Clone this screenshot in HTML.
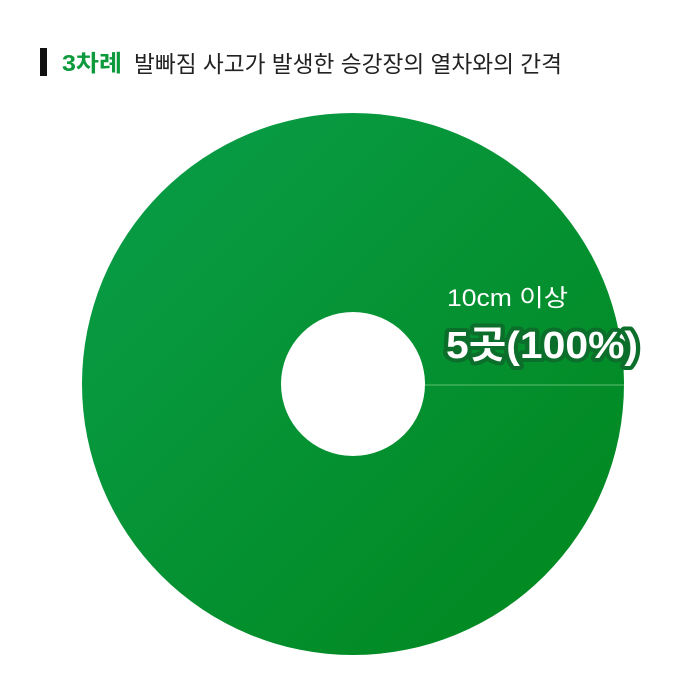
<!DOCTYPE html>
<html><head><meta charset="utf-8"><style>
html,body{margin:0;padding:0;background:#fff;width:700px;height:700px;overflow:hidden}
svg{display:block}
text{font-family:"Liberation Sans","Noto Sans CJK KR",sans-serif}
</style></head><body>
<svg id="chart" width="700" height="700" viewBox="0 0 700 700">
<defs>
<linearGradient id="g" x1="0" y1="0" x2="1" y2="1">
<stop offset="0" stop-color="#0a9e4a"/><stop offset="1" stop-color="#00861c"/>
</linearGradient>
</defs>
<rect x="40" y="48" width="7" height="28" fill="#111"/>
<text x="62" y="71" font-size="23" font-weight="bold" fill="#0c9a3c" textLength="60" lengthAdjust="spacingAndGlyphs">3차례</text>
<text x="134" y="72" font-size="23" fill="#222" textLength="428" lengthAdjust="spacingAndGlyphs">발빠짐 사고가 발생한 승강장의 열차와의 간격</text>
<g id="slices"></g>
<text x="447" y="306" font-size="24" fill="#fff" textLength="121" lengthAdjust="spacingAndGlyphs">10cm 이상</text>
<text id="pct" x="446" y="358" font-size="38" font-weight="bold" fill="#fff" stroke="#0b6e2a" stroke-width="8" paint-order="stroke" stroke-linejoin="round" textLength="192" lengthAdjust="spacingAndGlyphs"></text>
</svg>
<script>
const categories = ["10cm 이상"];
const counts = [5];
const unitLabel = "곳";
const cx = 353, cy = 384, R = 271, r = 72;
const total = counts.reduce((a,b)=>a+b,0);
const g = document.getElementById('slices');
const ns = "http://www.w3.org/2000/svg";
let a0 = 0;
counts.forEach((v,i)=>{
  const frac = v/total;
  const a1 = a0 + frac*2*Math.PI;
  let d;
  if (frac >= 0.9999) {
    d = `M${cx+R},${cy} A${R},${R} 0 1 1 ${cx-R},${cy} A${R},${R} 0 1 1 ${cx+R},${cy} Z M${cx+r},${cy} A${r},${r} 0 1 0 ${cx-r},${cy} A${r},${r} 0 1 0 ${cx+r},${cy} Z`;
  } else {
    const large = frac > 0.5 ? 1 : 0;
    const p = (rad,a)=>[cx+rad*Math.cos(a), cy+rad*Math.sin(a)];
    const [x0,y0]=p(R,a0),[x1,y1]=p(R,a1),[x2,y2]=p(r,a1),[x3,y3]=p(r,a0);
    d = `M${x0},${y0} A${R},${R} 0 ${large} 1 ${x1},${y1} L${x2},${y2} A${r},${r} 0 ${large} 0 ${x3},${y3} Z`;
  }
  const path = document.createElementNS(ns,'path');
  path.setAttribute('d', d);
  path.setAttribute('fill', 'url(#g)');
  path.setAttribute('fill-rule', 'evenodd');
  
  
  g.appendChild(path);
  const ln = document.createElementNS(ns,'line');
  ln.setAttribute('x1', cx + r*Math.cos(a0)); ln.setAttribute('y1', cy + 1 + r*Math.sin(a0));
  ln.setAttribute('x2', cx + R*Math.cos(a0)); ln.setAttribute('y2', cy + 1 + R*Math.sin(a0));
  ln.setAttribute('stroke', '#5fbf6f'); ln.setAttribute('stroke-width', '1');
  
  
  g.appendChild(ln);
  a0 = a1;
});
document.getElementById('pct').textContent = counts[0] + unitLabel + "(" + Math.round(counts[0]/total*100) + "%)";
</script>
</body></html>
